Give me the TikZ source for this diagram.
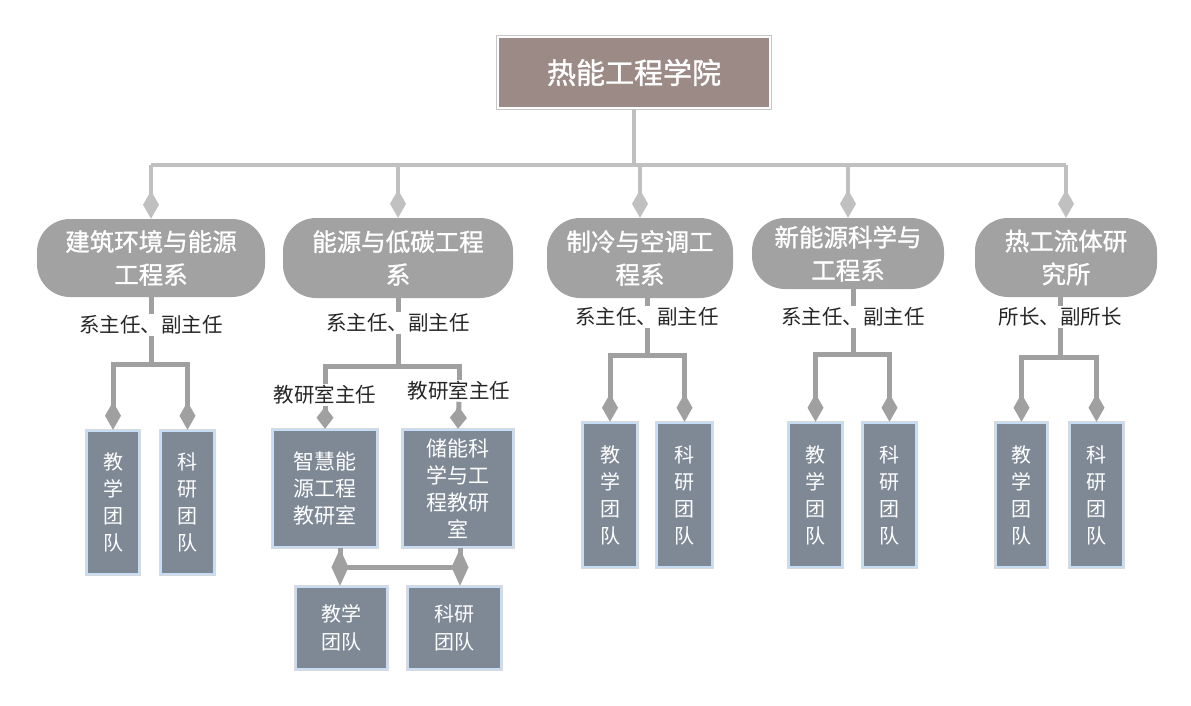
\documentclass[tikz,border=0pt]{standalone}
\usepackage{fontspec}
\setmainfont{Noto Sans CJK SC}
\newfontfamily\cjkb[FakeBold=1.2]{Noto Sans CJK SC}
\usetikzlibrary{arrows.meta,positioning}

\definecolor{titlefill}{HTML}{9B8A86}
\definecolor{deptfill}{HTML}{A2A2A2}
\definecolor{teamfill}{HTML}{7F8996}
\definecolor{teamrim}{HTML}{C6DDF5}
\definecolor{buscol}{HTML}{C0C0C0}
\definecolor{linkcol}{HTML}{A0A0A0}

\tikzset{
  college/.style={fill=titlefill, draw=white, line width=2pt, preaction={draw=gray!45, line width=4pt},
    text=white, font=\cjkb\fontsize{29}{34}\selectfont, minimum width=272pt, minimum height=71pt, inner sep=0pt},
  dept/.style={fill=deptfill, rounded corners=33pt, text=white, align=center,
    font=\cjkb\fontsize{24.5}{33}\selectfont, inner sep=0pt},
  team/.style={fill=teamfill, draw=teamrim, line width=2.5pt, preaction={draw=gray!30, line width=4.5pt},
    text=white, align=center, font=\fontsize{20}{27}\selectfont, inner sep=0pt},
  duty/.style={text=black!85, font=\fontsize{20.5}{24}\selectfont, inner sep=1pt},
  bus/.style={draw=buscol, line width=4pt},
  link/.style={draw=linkcol, line width=5pt},
  dtip/.style={-{Diamond[length=28pt,width=16pt]}},
  rtip/.style={-{Diamond[length=22pt,width=17pt]}},
  btip/.style={-{Diamond[length=37pt,width=17pt]}},
}

\begin{document}
\begin{tikzpicture}[x=1pt, y=-1pt]
  \useasboundingbox (0,0) rectangle (1191,705);

  % college and departments
  \node[college] (xy) at (634,72.5) {热能工程学院};
  \coordinate (bus) at (634,165);
  \node[dept, minimum width=228pt, minimum height=78pt] (d1) at (151,258) {建筑环境与能源\\工程系};
  \node[dept, minimum width=230pt, minimum height=80pt] (d2) at (398,258) {能源与低碳工程\\系};
  \node[dept, minimum width=186pt, minimum height=80pt] (d3) at (640,258) {制冷与空调工\\程系};
  \node[dept, minimum width=192pt, minimum height=71pt] (d4) at (848,253.5) {新能源科学与\\工程系};
  \node[dept, minimum width=182pt, minimum height=79pt] (d5) at (1066,257.5) {热工流体研\\究所};

  \draw[bus] (xy.south) -- (bus);
  \draw[bus] (d1.north |- bus) -- (d5.north |- bus);
  \foreach \i in {1,...,5}
    \draw[bus, dtip] (d\i.north |- bus) -- (d\i.north);

  % heads
  \node[duty] (l1) at (151,325) {系主任、副主任};
  \node[duty] (l2) at (398,323) {系主任、副主任};
  \node[duty] (l3) at (647,317) {系主任、副主任};
  \node[duty] (l4) at (853,317) {系主任、副主任};
  \node[duty] (l5) at (1060,317) {所长、副所长};
  \foreach \i in {1,...,5}
    \draw[link] (d\i.south -| l\i) -- (l\i.north);

  \coordinate (f1) at (151,364);
  \coordinate (f2) at (398,366);
  \coordinate (f3) at (647,355);
  \coordinate (f4) at (853,354);
  \coordinate (f5) at (1060,357);
  \foreach \i in {1,...,5}
    \draw[link] (l\i.south) -- (f\i);

  % teams
  \node[team, minimum width=52pt, minimum height=143pt] (t1a) at (113,502.5) {教\\学\\团\\队};
  \node[team, minimum width=53pt, minimum height=143pt] (t1b) at (187.5,502.5) {科\\研\\团\\队};
  \node[team, minimum width=54pt, minimum height=144pt] (t3a) at (610,495) {教\\学\\团\\队};
  \node[team, minimum width=55pt, minimum height=144pt] (t3b) at (684.5,495) {科\\研\\团\\队};
  \node[team, minimum width=53pt, minimum height=144pt] (t4a) at (815.5,495) {教\\学\\团\\队};
  \node[team, minimum width=53pt, minimum height=144pt] (t4b) at (889.5,495) {科\\研\\团\\队};
  \node[team, minimum width=51pt, minimum height=144pt] (t5a) at (1021.5,495) {教\\学\\团\\队};
  \node[team, minimum width=53pt, minimum height=144pt] (t5b) at (1096.5,495) {科\\研\\团\\队};
  \foreach \i in {1,3,4,5} {
    \draw[link, dtip] (f\i) -| (t\i a.north);
    \draw[link, dtip] (f\i) -| (t\i b.north);
  }

  % teaching and research sections
  \node[duty] (s1) at (325,395) {教研室主任};
  \node[duty] (s2) at (459,391) {教研室主任};
  \draw[link] (f2) -| (s1.north);
  \draw[link] (f2) -| (s2.north);
  \node[team, minimum width=104pt, minimum height=117pt, font=\fontsize{21}{27}\selectfont] (r1) at (325,488.5) {智慧能\\源工程\\教研室};
  \node[team, minimum width=110pt, minimum height=117pt, font=\fontsize{21}{27}\selectfont] (r2) at (458,488.5) {储能科\\学与工\\程教研\\室};
  \draw[link, rtip] (s1.south) -- (r1.north);
  \draw[link, rtip] (s2.south) -- (r2.north);

  \node[team, minimum width=91pt, minimum height=82pt, font=\fontsize{20}{28}\selectfont] (tA) at (341.5,628) {教学\\团队};
  \node[team, minimum width=93pt, minimum height=82pt, font=\fontsize{20}{28}\selectfont] (tB) at (454.5,628) {科研\\团队};
  \coordinate (m1) at (340,567);
  \coordinate (m2) at (460,567);
  \draw[link] (m1) -- (m2);
  \draw[link, btip] (r1.south -| m1) -- (tA.north -| m1);
  \draw[link, btip] (r2.south -| m2) -- (tB.north -| m2);
\end{tikzpicture}
\end{document}
